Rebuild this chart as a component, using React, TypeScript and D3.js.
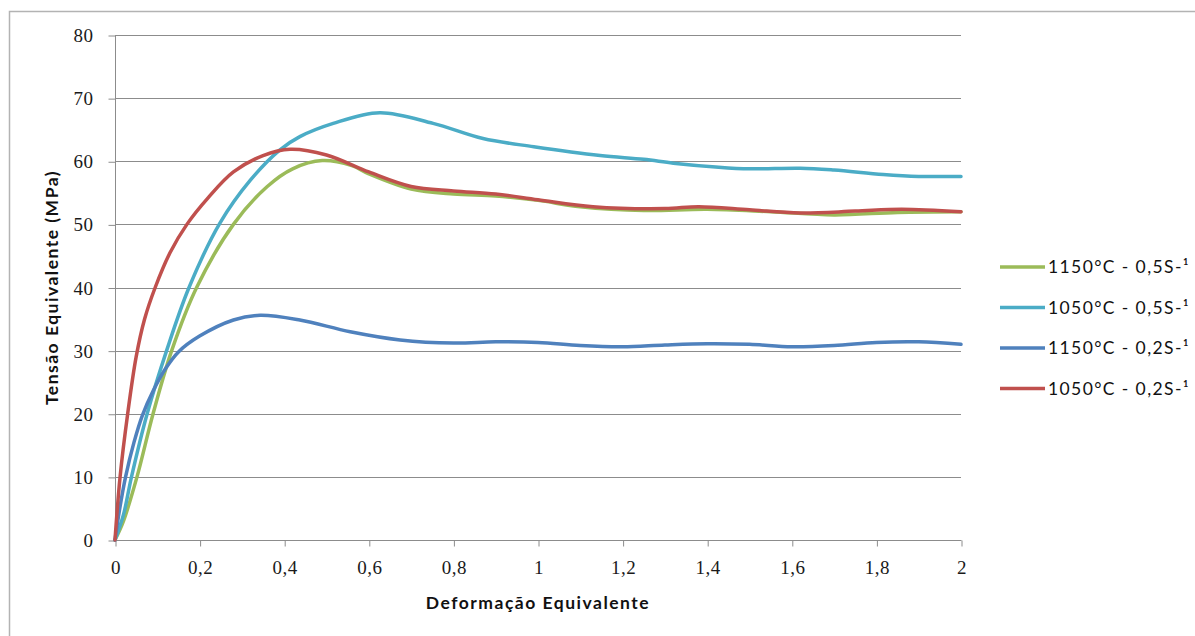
import { useEffect, useRef } from 'react';
import * as d3 from 'd3';

// series names as in the legend
const seriesNames = ['1150°C - 0,5S-¹', '1050°C - 0,5S-¹', '1150°C - 0,2S-¹', '1050°C - 0,2S-¹'];
const seriesColors = ['#9BBB59', '#4BACC6', '#4F81BD', '#C0504D'];

// values (strain, stress in MPa)
const green_x = [0, 0.02, 0.052, 0.09, 0.134, 0.193, 0.28, 0.36, 0.42, 0.49, 0.56, 0.6, 0.7, 0.8, 0.9, 1.0, 1.1, 1.25, 1.4, 1.55, 1.7, 1.85, 2.0];
const green_y = [0, 3, 10, 20, 30, 40, 50, 56, 58.8, 60.1, 59.3, 58, 55.6, 54.8, 54.5, 53.8, 52.8, 52.2, 52.4, 52.0, 51.5, 51.9, 52.0];

const cyan_x = [0, 0.02, 0.039, 0.076, 0.122, 0.175, 0.248, 0.32, 0.39, 0.437, 0.516, 0.626, 0.752, 0.87, 0.99, 1.147, 1.25, 1.32, 1.42, 1.5, 1.62, 1.7, 1.816, 1.9, 2.0];
const cyan_y = [0, 4, 10, 20, 30, 40, 50.2, 57, 61.8, 63.9, 66, 67.7, 66, 63.6, 62.3, 60.9, 60.3, 59.7, 59.1, 58.8, 58.9, 58.6, 57.9, 57.6, 57.6];

const blue_x = [0, 0.01, 0.025, 0.045, 0.065, 0.09, 0.12, 0.15, 0.2, 0.28, 0.343, 0.437, 0.556, 0.674, 0.8, 0.9, 1.0, 1.1, 1.2, 1.3, 1.4, 1.5, 1.6, 1.7, 1.8, 1.9, 2.0];
const blue_y = [0, 4.5, 10, 15.5, 19.8, 23.6, 27.2, 29.8, 32.3, 34.85, 35.6, 34.85, 33, 31.7, 31.2, 31.4, 31.3, 30.8, 30.6, 30.9, 31.1, 31.0, 30.6, 30.8, 31.3, 31.4, 31.0];

const red_x = [0, 0.012, 0.03, 0.05, 0.07, 0.095, 0.13, 0.17, 0.22, 0.28, 0.35, 0.414, 0.5, 0.6, 0.7, 0.8, 0.9, 1.0, 1.13, 1.3, 1.38, 1.5, 1.62, 1.75, 1.86, 2.0];
const red_y = [0, 10, 20, 29, 35, 40, 45.5, 50, 54.2, 58.3, 60.9, 61.9, 61, 58.3, 56, 55.3, 54.8, 53.9, 52.8, 52.5, 52.8, 52.3, 51.8, 52.1, 52.4, 52.0];

const xTicks = [0, 0.2, 0.4, 0.6, 0.8, 1, 1.2, 1.4, 1.6, 1.8, 2];
const yTicks = [0, 10, 20, 30, 40, 50, 60, 70, 80];

const xTitle = 'Deformação Equivalente';
const yTitle = 'Tensão Equivalente (MPa)';

export default function App() {
  const ref = useRef<SVGSVGElement>(null);

  const width = 1195;
  const height = 636;
  const left = 115, right = 961, top = 35, bottom = 540;

  useEffect(() => {
    const svg = d3.select(ref.current);
    svg.selectAll('*').remove();

    const x = d3.scaleLinear().domain([0, 2]).range([left, right]);
    const y = d3.scaleLinear().domain([0, 80]).range([bottom, top]);

    // chart border
    svg.append('rect')
      .attr('x', 9.5).attr('y', 11.5)
      .attr('width', 1200).attr('height', 640)
      .attr('fill', '#fff')
      .attr('stroke', '#B3B3B3')
      .attr('stroke-width', 1.5);

    // gridlines
    svg.selectAll('.grid').data(yTicks.filter(d => d > 0)).join('line')
      .attr('class', 'grid')
      .attr('x1', left).attr('x2', right)
      .attr('y1', d => Math.round(y(d)) + 0.5).attr('y2', d => Math.round(y(d)) + 0.5)
      .attr('stroke', '#8C8C8C');

    // y axis
    const yAxis = d3.axisLeft(y).tickValues(yTicks).tickSize(7).tickPadding(15)
      .tickFormat(d => String(d));
    const gy = svg.append('g').attr('transform', `translate(${left + 0.5},0.5)`).call(yAxis);

    // x axis
    const xAxis = d3.axisBottom(x).tickValues(xTicks).tickSize(6).tickPadding(14)
      .tickFormat(d => String(d).replace('.', ','));
    const gx = svg.append('g').attr('transform', `translate(0.5,${bottom + 0.5})`).call(xAxis);

    [gx, gy].forEach(g => {
      g.selectAll('path').attr('stroke', '#8C8C8C');
      g.selectAll('line').attr('stroke', '#8C8C8C');
      g.selectAll('text')
        .attr('fill', '#1a1a1a')
        .style('font-family', '"Liberation Serif", serif')
        .style('font-size', '19px')
        .style('letter-spacing', '0.5px');
    });
    gx.select('.domain').attr('d', `M${left},0H${right}`);
    gy.select('.domain').attr('d', `M0,${top}V${bottom}`);

    // series
    const series = [
      [green_x, green_y],
      [cyan_x, cyan_y],
      [blue_x, blue_y],
      [red_x, red_y],
    ];

    series.forEach(([xs, ys], i) => {
      const line = d3.line<number>()
        .x(d => x(d))
        .y((d, j) => y(ys[j]))
        .curve(d3.curveCatmullRom.alpha(0.5));
      svg.append('path')
        .datum(xs)
        .attr('d', line)
        .attr('fill', 'none')
        .attr('stroke', seriesColors[i])
        .attr('stroke-width', 3.5)
        .attr('stroke-linejoin', 'round')
        .attr('stroke-linecap', 'round');
    });

    // axis titles
    svg.append('text')
      .attr('x', (left + right) / 2).attr('y', 609)
      .attr('text-anchor', 'middle')
      .style('font-family', 'Lato, sans-serif')
      .style('font-weight', 700)
      .style('font-size', '17.5px')
      .style('letter-spacing', '1.5px')
      .attr('fill', '#111')
      .text(xTitle);

    svg.append('text')
      .attr('transform', `translate(58,${(top + bottom) / 2}) rotate(-90)`)
      .attr('text-anchor', 'middle')
      .style('font-family', 'Lato, sans-serif')
      .style('font-weight', 700)
      .style('font-size', '17.5px')
      .style('letter-spacing', '1.5px')
      .attr('fill', '#111')
      .text(yTitle);

    // legend
    const lg = svg.append('g');
    seriesNames.forEach((name, i) => {
      const ly = 267 + i * 40.5;
      lg.append('line')
        .attr('x1', 1000).attr('x2', 1045)
        .attr('y1', ly).attr('y2', ly)
        .attr('stroke', seriesColors[i])
        .attr('stroke-width', 3.5);
      lg.append('text')
        .attr('x', 1048).attr('y', ly)
        .attr('dy', '0.35em')
        .style('font-family', 'Lato, sans-serif')
        .style('font-size', '17.5px')
        .style('letter-spacing', '1.4px')
        .attr('fill', '#111')
        .text(name);
    });
  }, []);

  return (
    <svg
      ref={ref}
      width={width}
      height={height}
      style={{ position: 'absolute', left: 0, top: 0, background: '#fff' }}
    />
  );
}
